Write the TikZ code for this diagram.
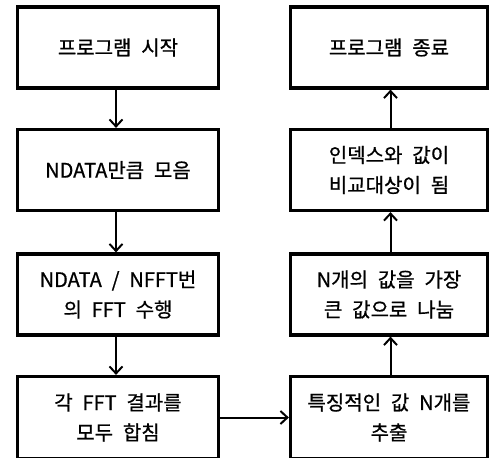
\documentclass[tikz,border=0pt]{standalone}
\usepackage{fontspec}
\setmainfont{Noto Sans CJK KR}[WordSpace=2.2, FakeBold=0.8]
\usetikzlibrary{arrows.meta}
\begin{document}
\begin{tikzpicture}[x=1pt,y=-1pt,
  box/.style={draw, line width=3.2pt, rectangle, minimum height=81pt, align=center, inner sep=0pt,
    font=\fontsize{20}{30}\selectfont},
  lbox/.style={box, minimum width=200.5pt},
  rbox/.style={box, minimum width=197pt},
  flow/.style={line width=2pt, -{Straight Barb[length=7pt,width=13pt,line width=2pt]}}]
\useasboundingbox (0,0) rectangle (491,458);
\fill[white] (0,0) rectangle (491,458);
\node[lbox] (a1) at (118,47.5) {프로그램 시작};
\node[lbox] (a2) at (118,170) {NDATA만큼 모음};
\node[lbox] (a3) at (118,294.5) {NDATA / NFFT번\\의 FFT 수행};
\node[lbox, minimum height=82pt] (a4) at (118,417.5) {각 FFT 결과를\\모두 합침};
\node[rbox] (b1) at (389,47.5) {프로그램 종료};
\node[rbox] (b2) at (389,170) {인덱스와 값이\\비교대상이 됨};
\node[rbox] (b3) at (389,294.5) {N개의 값을 가장\\큰 값으로 나눔};
\node[rbox, minimum height=82pt] (b4) at (389,417.5) {특징적인 값 N개를\\추출};
\draw[flow] ([xshift=-2pt]a1.south) -- ([xshift=-2pt]a2.north);
\draw[flow] ([xshift=-2pt]a2.south) -- ([xshift=-2pt]a3.north);
\draw[flow] ([xshift=-2pt]a3.south) -- ([xshift=-2pt]a4.north);
\draw[flow] (a4.east) -- (b4.west);
\draw[flow] ([xshift=1.5pt]b4.north) -- ([xshift=1.5pt]b3.south);
\draw[flow] ([xshift=1.5pt]b3.north) -- ([xshift=1.5pt]b2.south);
\draw[flow] ([xshift=1.5pt]b2.north) -- ([xshift=1.5pt]b1.south);
\end{tikzpicture}
\end{document}
